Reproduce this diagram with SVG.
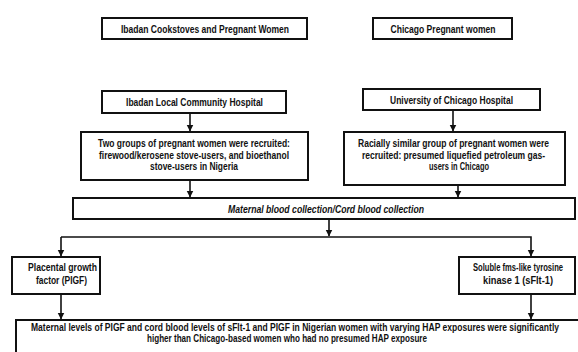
<svg xmlns="http://www.w3.org/2000/svg" width="578" height="352" viewBox="0 0 578 352">
<style>
  .box { fill: #fff; stroke: #111; stroke-width: 2; }
  .t { font-family: "Liberation Sans", Arial, sans-serif; font-weight: bold; font-size: 10.4px; fill: #111; text-anchor: middle; }
  .i { font-style: italic; }
  .c { fill: none; stroke: #111; stroke-width: 1.6; }
</style>
<defs>
  <marker id="ad" markerUnits="userSpaceOnUse" markerWidth="8" markerHeight="8" refX="6.5" refY="4" orient="auto" viewBox="0 0 8 8">
    <path d="M0,0.5 L7,4 L0,7.5 Z" fill="#111"/>
  </marker>
</defs>
<rect width="578" height="352" fill="#fff"/>

<g id="connectors">
  <line class="c" x1="190" y1="113" x2="190" y2="131" marker-end="url(#ad)"/>
  <line class="c" x1="453" y1="110" x2="453" y2="131" marker-end="url(#ad)"/>
  <line class="c" x1="190" y1="180" x2="190" y2="197" marker-end="url(#ad)"/>
  <line class="c" x1="458" y1="185" x2="458" y2="197" marker-end="url(#ad)"/>
  <line class="c" x1="329" y1="219" x2="329" y2="236" marker-end="url(#ad)"/>
  <polyline class="c" points="61,237 531,237 531,256" marker-end="url(#ad)"/>
  <line class="c" x1="61" y1="237" x2="61" y2="256" marker-end="url(#ad)"/>
  <line class="c" x1="61" y1="294" x2="61" y2="319" marker-end="url(#ad)"/>
  <line class="c" x1="531" y1="294" x2="531" y2="319" marker-end="url(#ad)"/>
</g>

<g id="ibadan-title">
  <rect class="box" x="102" y="18" width="205" height="21"/>
  <text class="t" transform="translate(205,32.5) scale(0.82,1)" textLength="204.9" lengthAdjust="spacingAndGlyphs">Ibadan Cookstoves and Pregnant Women</text>
</g>
<g id="chicago-title">
  <rect class="box" x="373" y="18" width="139" height="21"/>
  <text class="t" transform="translate(443,32.5) scale(0.82,1)" textLength="128" lengthAdjust="spacingAndGlyphs">Chicago Pregnant women</text>
</g>
<g id="ibadan-hospital">
  <rect class="box" x="102" y="91" width="184" height="22"/>
  <text class="t" transform="translate(194.5,106) scale(0.82,1)" textLength="167" lengthAdjust="spacingAndGlyphs">Ibadan Local Community Hospital</text>
</g>
<g id="chicago-hospital">
  <rect class="box" x="363" y="89" width="177" height="21"/>
  <text class="t" transform="translate(451.5,103.5) scale(0.82,1)" textLength="150" lengthAdjust="spacingAndGlyphs">University of Chicago Hospital</text>
</g>
<g id="ibadan-groups">
  <rect class="box" x="81" y="132" width="227" height="48"/>
  <text class="t" transform="translate(194,147) scale(0.82,1)" textLength="234" lengthAdjust="spacingAndGlyphs">Two groups of pregnant women were recruited:</text>
  <text class="t" transform="translate(194,158.5) scale(0.82,1)" textLength="231.7" lengthAdjust="spacingAndGlyphs">firewood/kerosene stove-users, and bioethanol</text>
  <text class="t" transform="translate(194,170) scale(0.82,1)" textLength="107.3" lengthAdjust="spacingAndGlyphs">stove-users in Nigeria</text>
</g>
<g id="chicago-group">
  <rect class="box" x="344" y="132" width="221" height="53"/>
  <text class="t" transform="translate(453.5,147) scale(0.82,1)" textLength="232.9" lengthAdjust="spacingAndGlyphs">Racially similar group of pregnant women were</text>
  <text class="t" transform="translate(453.5,158.5) scale(0.82,1)" textLength="223.2" lengthAdjust="spacingAndGlyphs">recruited: presumed liquefied petroleum gas-</text>
  <text class="t" transform="translate(459,170) scale(0.82,1)" textLength="73.2" lengthAdjust="spacingAndGlyphs">users in Chicago</text>
</g>
<g id="blood-collection">
  <rect class="box" x="73" y="198" width="502" height="21"/>
  <text class="t i" transform="translate(326,212.5) scale(0.82,1)" textLength="239" lengthAdjust="spacingAndGlyphs">Maternal blood collection/Cord blood collection</text>
</g>
<g id="plgf">
  <rect class="box" x="12" y="257" width="88" height="37"/>
  <text class="t" transform="translate(62.5,271) scale(0.82,1)" textLength="84.1" lengthAdjust="spacingAndGlyphs">Placental growth</text>
  <text class="t" transform="translate(61.5,284) scale(0.82,1)" textLength="62.2" lengthAdjust="spacingAndGlyphs">factor (PIGF)</text>
</g>
<g id="sflt">
  <rect class="box" x="459" y="257" width="116" height="37"/>
  <text class="t" transform="translate(518,271) scale(0.82,1)" textLength="109.8" lengthAdjust="spacingAndGlyphs">Soluble fms-like tyrosine</text>
  <text class="t" transform="translate(518,284) scale(0.82,1)" textLength="85.4" lengthAdjust="spacingAndGlyphs">kinase 1 (sFlt-1)</text>
</g>
<g id="conclusion">
  <rect class="box" x="16" y="320" width="564" height="34"/>
  <text class="t" transform="translate(295,331) scale(0.82,1)" textLength="643.9" lengthAdjust="spacingAndGlyphs">Maternal levels of PIGF and cord blood levels of sFlt-1 and PIGF in Nigerian women with varying HAP exposures were significantly</text>
  <text class="t" transform="translate(287,342) scale(0.82,1)" textLength="341.5" lengthAdjust="spacingAndGlyphs">higher than Chicago-based women who had no presumed HAP exposure</text>
</g>
</svg>
